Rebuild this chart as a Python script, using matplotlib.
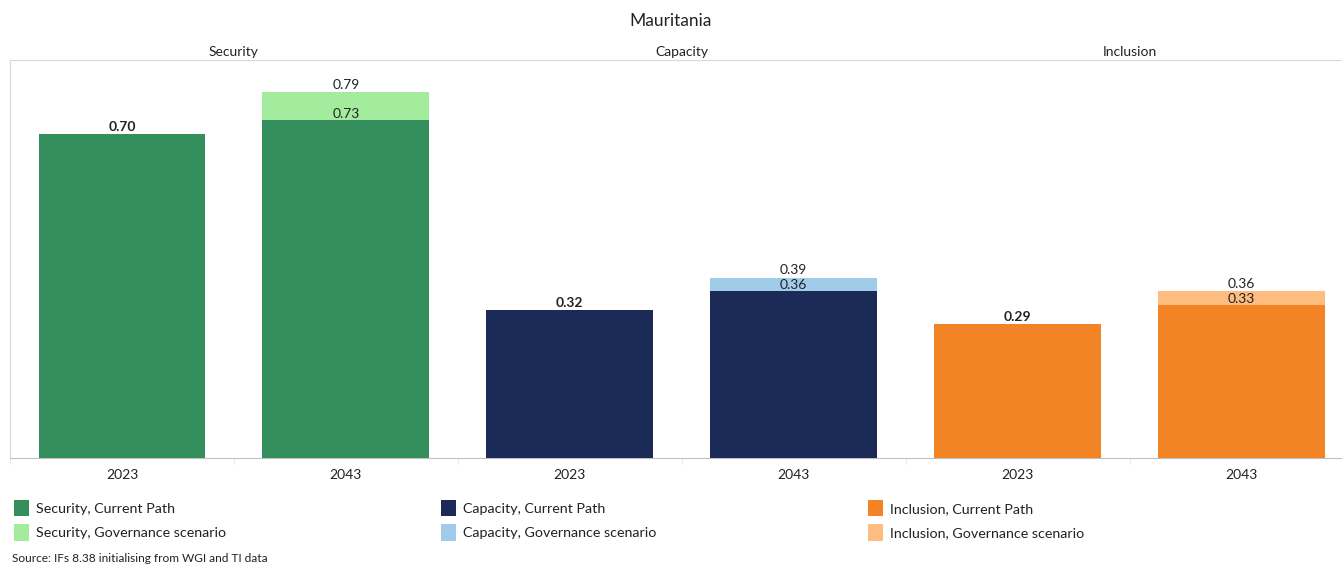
import numpy as np
import matplotlib.pyplot as plt
from matplotlib.patches import Patch

plt.rcParams['font.family'] = ['Lato', 'DejaVu Sans']

country = "Mauritania"
groups = ["Security", "Capacity", "Inclusion"]
years = ["2023", "2043"]
current_path = [[0.70, 0.73], [0.32, 0.36], [0.29, 0.33]]
governance = [[None, 0.79], [None, 0.39], [None, 0.36]]
current_colors = ["#348F5D", "#1B2A57", "#F38425"]
gov_colors = ["#A3EC9D", "#A0CCEA", "#FDBD80"]
source = "Source: IFs 8.38 initialising from WGI and TI data"

fig = plt.figure(figsize=(13.42, 5.65), dpi=100)
ax = fig.add_axes([10 / 1342, 1 - 458 / 565, 1343.5 / 1342, 398 / 565])

width = 0.745
for g, name in enumerate(groups):
    for k, yr in enumerate(years):
        x = g * 2 + k
        cur = current_path[g][k]
        gov = governance[g][k]
        if gov is not None:
            ax.bar(x, gov, width, color=gov_colors[g], zorder=2)
            ax.text(x, gov + 0.003, f"{gov:.2f}", ha='center', va='bottom',
                    fontsize=10, color='#222222', zorder=4)
            ax.bar(x, cur, width, color=current_colors[g], zorder=3)
            ax.text(x, cur + 0.0, f"{cur:.2f}", ha='center', va='bottom',
                    fontsize=10, color='#222222', zorder=4)
        else:
            ax.bar(x, cur, width, color=current_colors[g], zorder=3)
            ax.text(x, cur + 0.002, f"{cur:.2f}", ha='center', va='bottom',
                    fontsize=10, fontweight='bold', color='#222222', zorder=4)
    # panel heading above the plot box
    ax.text(g * 2 + 0.5, 1.005, name, transform=ax.get_xaxis_transform(),
            ha='center', va='bottom', fontsize=10, color='#222222')

ax.set_xlim(-0.5, 5.5)
ax.set_ylim(0, 0.86)
ax.set_xticks(np.arange(6))
ax.set_xticklabels(years * 3, fontsize=10, color='#222222')
ax.tick_params(axis='x', length=0, pad=8)
ax.set_xticks(np.arange(-0.5, 6, 1), minor=True)
ax.tick_params(axis='x', which='minor', length=4, color='#E6E6E6')
ax.set_yticks([])
for side in ['left', 'top', 'right']:
    ax.spines[side].set_color('#D9D9D9')
ax.spines['bottom'].set_color('#BFBFBF')

fig.text(0.5, 1 - 21 / 565, country, ha='center', va='center', fontsize=12.5,
         color='#222222')

# one legend block per group, two rows each
for g, name in enumerate(groups):
    handles = [Patch(facecolor=current_colors[g], label=f"{name}, Current Path"),
               Patch(facecolor=gov_colors[g], label=f"{name}, Governance scenario")]
    fig.legend(handles=handles, loc='upper left',
               bbox_to_anchor=((8 + 427 * g) / 1342, 1 - 494 / 565),
               frameon=False, fontsize=10.3, handlelength=1.1, handleheight=1.4,
               handletextpad=0.45, labelspacing=0.55, borderaxespad=0,
               labelcolor='#222222')

fig.text(12 / 1342, 1 - 559 / 565, source, ha='left', va='center', fontsize=8.6,
         color='#222222')

fig.savefig("out.png", dpi=100)
